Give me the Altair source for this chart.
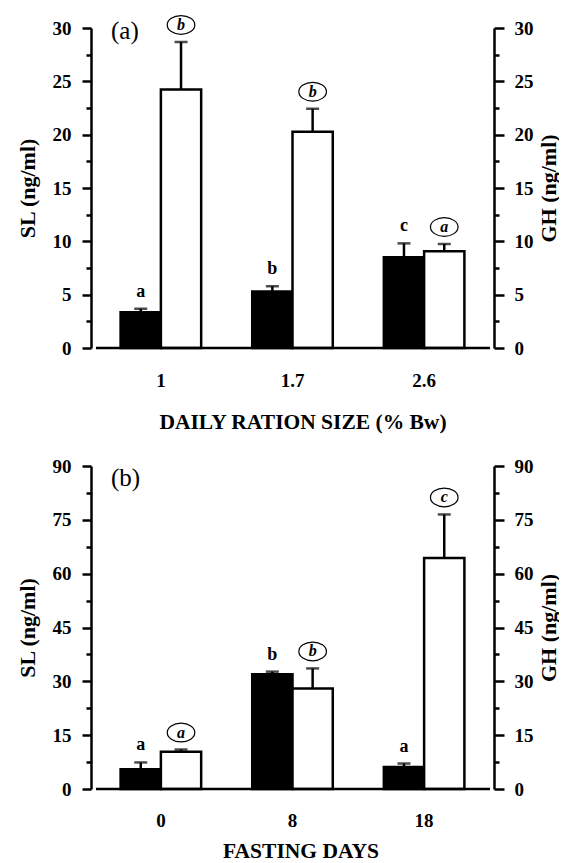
import altair as alt
import pandas as pd

FONT = "Liberation Serif"

series = ["SL", "GH"]

# Panel (a): daily ration size
groups_a = ["1", "1.7", "2.6"]
sl_a = [3.36, 5.30, 8.50]
sl_a_err = [0.32, 0.49, 1.31]
gh_a = [24.24, 20.28, 9.07]
gh_a_err = [4.45, 2.15, 0.68]
sl_a_letters = ["a", "b", "c"]
gh_a_letters = ["b", "b", "a"]

# Panel (b): fasting days
groups_b = ["0", "8", "18"]
sl_b = [5.5, 32.0, 6.1]
sl_b_err = [1.9, 0.7, 1.0]
gh_b = [10.4, 28.0, 64.4]
gh_b_err = [0.6, 5.6, 12.1]
sl_b_letters = ["a", "b", "a"]
gh_b_letters = ["a", "b", "c"]

ELLIPSE = "M -1 0 A 1 0.68 0 1 1 1 0 A 1 0.68 0 1 1 -1 0 Z"
W = 403


def make_df(groups, sl, sl_err, gh, gh_err, sl_let, gh_let):
    rows = []
    for i, g in enumerate(groups):
        rows.append(dict(group=g, series="SL", mean=sl[i], cap=sl[i] + sl_err[i], letter=sl_let[i]))
        rows.append(dict(group=g, series="GH", mean=gh[i], cap=gh[i] + gh_err[i], letter=gh_let[i]))
    return pd.DataFrame(rows)


def panel(df, groups, ymax, major, minor, xtitle, plabel, plabel_y, lab_pad, title_pad, height, title_shift):
    major_vals = [major * k for k in range(int(round(ymax / major)) + 1)]
    minor_vals = [minor * k for k in range(int(round(ymax / minor)) + 1)]
    minor_vals = [v for v in minor_vals if v not in major_vals]
    yscale = alt.Scale(domain=[0, ymax], nice=False, zero=True)

    common_axis = dict(domainColor="black", tickColor="black", tickWidth=2.5, domainWidth=2.5,
                       labelFont=FONT, labelFontSize=19, labelFontWeight="bold", labelColor="black",
                       titleFont=FONT, titleFontSize=22, titleFontWeight="bold", titleColor="black",
                       grid=False)
    left_major = alt.Axis(orient="left", values=major_vals, tickSize=9, labelPadding=11,
                          title="SL (ng/ml)", titlePadding=13, **common_axis)
    right_major = alt.Axis(orient="right", values=major_vals, tickSize=10, labelPadding=10,
                           title="GH (ng/ml)", titlePadding=27, titleAngle=270, **common_axis)
    left_minor = alt.Axis(orient="left", values=minor_vals, tickSize=5, labels=False, domain=False,
                          title=None, tickColor="black", tickWidth=2.5, grid=False)
    right_minor = alt.Axis(orient="right", values=minor_vals, tickSize=5, labels=False, domain=False,
                           title=None, tickColor="black", tickWidth=2.5, grid=False)

    x = alt.X("group:N", sort=groups,
              scale=alt.Scale(paddingInner=0.388, paddingOuter=0.225),
              axis=alt.Axis(title=xtitle, domain=False, ticks=False, tickSize=0, labelAngle=0,
                            labelFont=FONT, labelFontSize=19, labelFontWeight="bold",
                            labelColor="black", labelPadding=lab_pad,
                            titleFont=FONT, titleFontSize=21.5, titleFontWeight="bold",
                            titleColor="black", titlePadding=title_pad,
                            titleX=W / 2 + title_shift))
    xo = alt.XOffset("series:N", sort=series, scale=alt.Scale(paddingInner=0, paddingOuter=0))

    base = alt.Chart(df)
    bars = base.mark_bar(stroke="black", strokeWidth=2.5).encode(
        x=x, xOffset=xo,
        y=alt.Y("mean:Q", scale=yscale, axis=left_major),
        fill=alt.Fill("series:N", scale=alt.Scale(domain=series, range=["black", "white"]), legend=None),
    )
    err = base.mark_rule(color="black", strokeWidth=2.5).encode(
        x=x, xOffset=xo,
        y=alt.Y("mean:Q", scale=yscale, axis=right_major),
        y2="cap:Q",
    )
    caps = base.mark_tick(color="black", thickness=2.5, size=13, orient="horizontal").encode(
        x=x, xOffset=xo,
        y=alt.Y("cap:Q", scale=yscale, axis=left_minor),
    )
    sl_txt = base.transform_filter(alt.datum.series == "SL").mark_text(
        font=FONT, fontSize=18, fontWeight="bold", color="black", yOffset=-17, baseline="middle"
    ).encode(
        x=x, xOffset=xo,
        y=alt.Y("cap:Q", scale=yscale, axis=right_minor),
        text="letter:N",
    )
    gh_txt = base.transform_filter(alt.datum.series == "GH").mark_text(
        font=FONT, fontSize=16, fontWeight="bold", fontStyle="italic", color="black",
        yOffset=-17, baseline="middle"
    ).encode(
        x=x, xOffset=xo,
        y=alt.Y("cap:Q", scale=yscale, axis=None),
        text="letter:N",
    )
    ell = base.transform_filter(alt.datum.series == "GH").mark_point(
        shape=ELLIPSE, size=760, filled=False, stroke="black", strokeWidth=1.2, yOffset=-17, opacity=1
    ).encode(
        x=x, xOffset=xo,
        y=alt.Y("cap:Q", scale=yscale, axis=None),
    )
    baseline = alt.Chart(pd.DataFrame({"v": [0]})).mark_rule(color="black", strokeWidth=2.5).encode(
        x=alt.value(5), x2=alt.value(W - 4),
        y=alt.Y("v:Q", scale=yscale, axis=None),
    )
    lab = alt.Chart(pd.DataFrame({"t": [plabel]})).mark_text(
        font=FONT, fontSize=25, align="left", baseline="middle", color="black"
    ).encode(x=alt.value(20), y=alt.value(plabel_y), text="t:N")

    return alt.layer(bars, err, caps, sl_txt, gh_txt, ell, baseline, lab).resolve_axis(
        y="independent"
    ).properties(width=W, height=height)


df_a = make_df(groups_a, sl_a, sl_a_err, gh_a, gh_a_err, sl_a_letters, gh_a_letters)
df_b = make_df(groups_b, sl_b, sl_b_err, gh_b, gh_b_err, sl_b_letters, gh_b_letters)

top = panel(df_a, groups_a, 30, 5, 2.5, "DAILY RATION SIZE (% Bw)", "(a)", 3, 23, 21, 320, 10)
bottom = panel(df_b, groups_b, 90, 15, 7.5, "FASTING DAYS", "(b)", 12, 22, 10, 323, 8)

chart = alt.vconcat(top, bottom, spacing=118, bounds="flush").properties(
    padding={"left": 8, "top": 5, "right": 0, "bottom": 0},
    background="white",
).configure_view(stroke=None)

chart.save("out.html", embed_options={"renderer": "svg", "actions": False})
